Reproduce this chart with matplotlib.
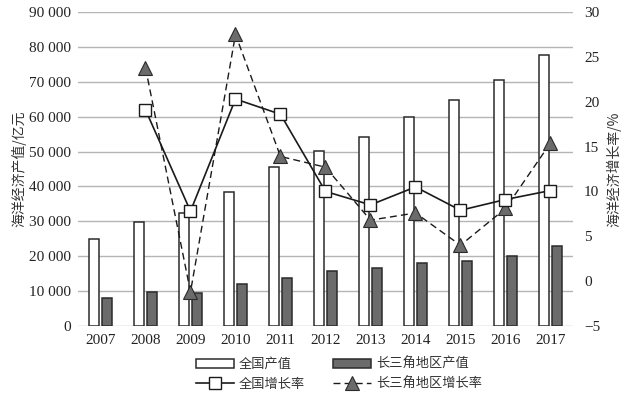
import matplotlib.pyplot as plt
import matplotlib.transforms as mtransforms
import numpy as np

plt.rcParams['font.family'] = ['Liberation Serif', 'Noto Sans CJK SC', 'DejaVu Sans']

years = ['2007', '2008', '2009', '2010', '2011', '2012', '2013', '2014', '2015', '2016', '2017']
national_output = [25073, 29718, 32278, 38439, 45570, 50087, 54313, 59936, 64669, 70507, 77611]
yrd_output = [7940, 9660, 9550, 12130, 13660, 15760, 16520, 17950, 18620, 20060, 23000]
national_growth = [np.nan, 19.1, 7.8, 20.3, 18.6, 10.0, 8.5, 10.5, 7.9, 9.1, 10.1]
yrd_growth = [np.nan, 23.8, -1.2, 27.5, 13.9, 12.7, 6.8, 7.6, 4.0, 8.1, 15.4]

cjk = ['Noto Sans CJK SC', 'DejaVu Sans']

fig = plt.figure(figsize=(6.3, 3.94), dpi=100)
ax = fig.add_axes([0.1238, 0.1726, 0.7857, 0.7969])
x = np.arange(len(years))
w = 0.22
off = 0.145

ax.bar(x - off, national_output, w, color='white', edgecolor='#2b2b2b', linewidth=1.1,
       label='全国产值', zorder=2)
ax.bar(x + off, yrd_output, w, color='#6b6b6b', edgecolor='#2b2b2b', linewidth=1.1,
       label='长三角地区产值', zorder=2)

ax.set_xlim(-0.5, 10.5)
ax.set_ylim(0, 90000)
ax.set_yticks(np.arange(0, 90001, 10000))
ax.set_yticklabels([f'{v:,}'.replace(',', ' ') for v in range(0, 90001, 10000)])
ax.yaxis.grid(True, color='#b5b5b5', linewidth=1.0, zorder=0)
ax.set_axisbelow(True)
ax.set_xticks(x)
ax.set_xticklabels(years)
# year labels sit a little left of the bar groups
shift = mtransforms.ScaledTranslation(-5 / 100, 0, fig.dpi_scale_trans)
for lab in ax.get_xticklabels():
    lab.set_transform(lab.get_transform() + shift)
ax.tick_params(length=0, labelsize=11, colors='#222222')
ax.tick_params(axis='x', pad=6)
ax.tick_params(axis='y', pad=5)
for s in ax.spines.values():
    s.set_visible(False)
ax.set_ylabel('海洋经济产值/亿元', family=cjk, fontsize=10, color='#333333', labelpad=2)

ax2 = ax.twinx()
ax2.set_ylim(-5, 30)
ax2.set_yticks(np.arange(-5, 31, 5))
ax2.set_yticklabels(['−5'] + [str(v) for v in range(0, 31, 5)])
ax2.tick_params(length=0, labelsize=11, colors='#222222', pad=8)
for s in ax2.spines.values():
    s.set_visible(False)
ax2.plot(x, national_growth, color='#1a1a1a', linewidth=1.2, marker='s', markersize=9,
         markerfacecolor='white', markeredgecolor='#1a1a1a', markeredgewidth=1.0,
         label='全国增长率', zorder=4)
ax2.plot(x, yrd_growth, color='#1a1a1a', linewidth=1.0, linestyle=(0, (5, 3)), marker='^',
         markersize=10, markerfacecolor='#6b6b6b', markeredgecolor='#2b2b2b',
         markeredgewidth=0.8, label='长三角地区增长率', zorder=3)
ax2.set_ylabel('海洋经济增长率/%', family=cjk, fontsize=10, color='#333333', labelpad=4)

h1, l1 = ax.get_legend_handles_labels()
h2, l2 = ax2.get_legend_handles_labels()
handles = [h1[0], h2[0], h1[1], h2[1]]
labels = [l1[0], l2[0], l1[1], l2[1]]
fig.legend(handles, labels, ncol=2, loc='lower center', bbox_to_anchor=(0.538, -0.022),
           frameon=False, prop={'family': cjk, 'size': 9.5}, handlelength=2.9,
           handleheight=0.6, columnspacing=2.1, handletextpad=0.35, labelspacing=0.5,
           labelcolor='#333333')

fig.savefig('out.png', dpi=100)
